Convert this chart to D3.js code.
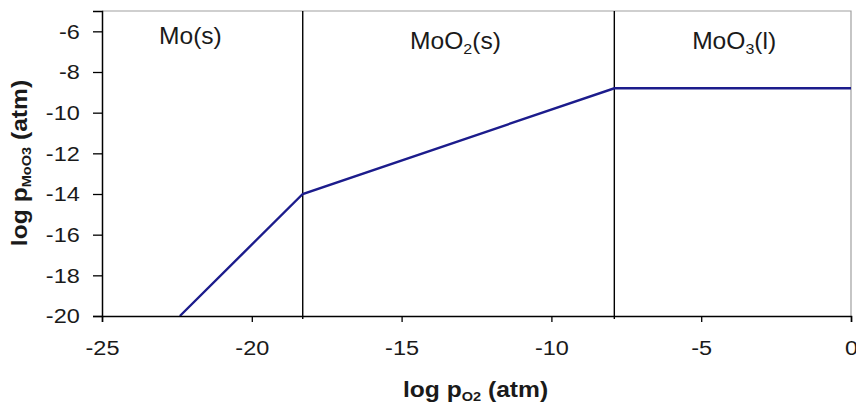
<!DOCTYPE html>
<html>
<head>
<meta charset="utf-8">
<script src="https://cdn.jsdelivr.net/npm/d3@7"></script>
<style>
  body { margin: 0; background: #fff; }
  text { font-family: "Liberation Sans", Arial, sans-serif; }
</style>
</head>
<body>
<div id="chart"></div>
<script>
// log pO2 / log pMoO3 boundary line
const logPO2 = [-22.4, -18.3, -7.9, 0];
const logPMoO3 = [-20, -14, -8.8, -8.8];

// phase boundaries (vertical lines) and region labels
const boundaries = [-18.3, -7.9];
const phaseNames = ['Mo', 'MoO', 'MoO'];
const phaseSubs = ['', '2', '3'];
const phaseTails = ['(s)', '(s)', '(l)'];
const phaseCentres = [-22.05, -13.2, -3.9];

const xTicks = [-25, -20, -15, -10, -5, 0];
const yTicks = [-20, -18, -16, -14, -12, -10, -8, -6];

const W = 856, H = 405;
const margin = {top: 11, right: 5, bottom: 89, left: 102};
const width = W - margin.left - margin.right;
const height = H - margin.top - margin.bottom;
const stretch = 1.12; // the source text is a bit wide

const x = d3.scaleLinear().domain([-25, 0]).range([0, width]);
const y = d3.scaleLinear().domain([-20, -5]).range([height, 0]);

const svg = d3.select('#chart').append('svg')
    .attr('width', W).attr('height', H);
const g = svg.append('g')
    .attr('transform', `translate(${margin.left},${margin.top})`);

// frame top/right in grey
g.append('path')
    .attr('d', `M0,0H${width}V${height}`)
    .attr('fill', 'none').attr('stroke', '#a0a0a0').attr('stroke-width', 1.2);

// phase boundaries
g.selectAll('.bound').data(boundaries).enter().append('line')
    .attr('x1', d => x(d)).attr('x2', d => x(d))
    .attr('y1', 0).attr('y2', height + 3)
    .attr('stroke', '#000').attr('stroke-width', 1.4);

// data line
const line = d3.line().x(d => x(d[0])).y(d => y(d[1]));
g.append('path')
    .datum(logPO2.map((v, i) => [v, logPMoO3[i]]))
    .attr('d', line)
    .attr('fill', 'none').attr('stroke', '#1c1c8c').attr('stroke-width', 2.4);

// axes (hyphen minus like the original)
const xAxis = g.append('g').attr('transform', `translate(0,${height})`)
    .call(d3.axisBottom(x).tickValues(xTicks).tickSize(6).tickPadding(18).tickFormat(d => String(d)));
const yAxis = g.append('g')
    .call(d3.axisLeft(y).tickValues(yTicks).tickSize(9).tickPadding(9).tickFormat(d => String(d)));
[xAxis, yAxis].forEach(a => {
  a.select('.domain').attr('stroke', '#000').attr('stroke-width', 1.5);
  a.selectAll('.tick line').attr('stroke', '#000').attr('stroke-width', 1.3);
  a.selectAll('.tick text').attr('fill', '#1a1a1a')
      .style('font-size', '21px').style('font-family', '"Liberation Sans", Arial, sans-serif');
});
xAxis.selectAll('.tick text').attr('transform', `scale(${stretch},1)`);
yAxis.selectAll('.tick text').attr('transform', `translate(-2,0) scale(${stretch},1)`);

// phase labels
phaseNames.forEach((n, i) => {
  const t = g.append('text')
      .attr('transform', `translate(${x(phaseCentres[i])},${i === 0 ? 33 : 38}) scale(1.07,1)`)
      .attr('text-anchor', 'middle')
      .attr('fill', '#1a1a1a').style('font-size', '23px');
  t.append('tspan').text(n);
  if (phaseSubs[i]) {
    t.append('tspan').attr('dy', 5).style('font-size', '15px').text(phaseSubs[i]);
    t.append('tspan').attr('dy', -5).text(phaseTails[i]);
  } else {
    t.append('tspan').text(phaseTails[i]);
  }
});

// axis titles
const xt = svg.append('text')
    .attr('transform', `translate(${margin.left + width / 2 - 1},${H - 8}) scale(${stretch},1)`)
    .attr('text-anchor', 'middle')
    .style('font-size', '22px').style('font-weight', 'bold').attr('fill', '#1a1a1a');
xt.append('tspan').text('log p');
xt.append('tspan').attr('dy', 4).style('font-size', '13px').text('O2');
xt.append('tspan').attr('dy', -4).text(' (atm)');

const yt = svg.append('text')
    .attr('transform', `translate(27,${margin.top + 152}) rotate(-90) scale(${stretch},1)`)
    .attr('text-anchor', 'middle')
    .style('font-size', '22px').style('font-weight', 'bold').attr('fill', '#1a1a1a');
yt.append('tspan').text('log p');
yt.append('tspan').attr('dy', 4).style('font-size', '13px').text('MoO3');
yt.append('tspan').attr('dy', -4).text(' (atm)');
</script>
</body>
</html>
